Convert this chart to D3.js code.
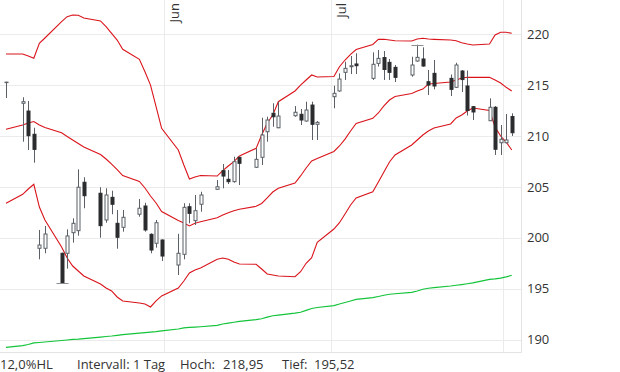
<!DOCTYPE html>
<html>
<head>
<meta charset="utf-8">
<script src="https://cdn.jsdelivr.net/npm/d3@7"></script>
<style>
  body { margin: 0; background: #fff; }
  svg { display: block; font-family: "Open Sans", sans-serif; }
</style>
</head>
<body>
<div id="chart"></div>
<script>
// trading days
const dates = [
  "2019-05-03",
  "2019-05-06","2019-05-07","2019-05-08","2019-05-09","2019-05-10",
  "2019-05-13","2019-05-14","2019-05-15","2019-05-16","2019-05-17",
  "2019-05-20","2019-05-21","2019-05-22","2019-05-23","2019-05-24",
  "2019-05-27","2019-05-28","2019-05-29","2019-05-30","2019-05-31",
  "2019-06-03","2019-06-04","2019-06-05","2019-06-06","2019-06-07",
  "2019-06-10","2019-06-11","2019-06-12","2019-06-13","2019-06-14",
  "2019-06-17","2019-06-18","2019-06-19","2019-06-20","2019-06-21",
  "2019-06-24","2019-06-25","2019-06-26","2019-06-27","2019-06-28",
  "2019-07-01","2019-07-02","2019-07-03","2019-07-04","2019-07-05",
  "2019-07-08","2019-07-09","2019-07-10","2019-07-11","2019-07-12",
  "2019-07-15","2019-07-16","2019-07-17","2019-07-18","2019-07-19",
  "2019-07-22","2019-07-23","2019-07-24","2019-07-25","2019-07-26",
  "2019-07-29","2019-07-30","2019-07-31","2019-08-01","2019-08-02"
];

const open = [
  215.28,
  213.20, 212.44, 210.16, 198.97, 198.97,
  198.48, 198.48, 200.50, 200.70, 205.45,
  204.37, 201.75, 203.97, 201.42, 201.03,
  202.31, 203.12, 200.34, 199.46, 199.78,
  197.33, 198.38, 203.05, 201.68, 203.29,
  204.76, 206.59, 205.74, 205.51, 207.90,
  206.92, 207.90, 210.41, 212.22, 210.80,
  211.98, 212.12, 211.46, 213.03, 211.14,
  213.85, 214.41, 216.24, 216.79, 217.06,
  215.65, 217.12, 217.69, 217.22, 216.73,
  215.98, 217.35, 217.55, 215.32, 216.14,
  215.65, 214.77, 216.37, 214.90, 212.87,
  211.49, 212.81, 209.33, 209.33, 211.90
];
const high = [
  215.30,
  213.79, 213.42, 210.80, 200.77, 201.16,
  198.54, 200.83, 201.91, 206.72, 205.94,
  204.96, 204.86, 204.62, 202.73, 202.73,
  203.81, 203.44, 200.44, 201.75, 199.85,
  200.39, 203.39, 203.39, 204.20, 204.52,
  205.67, 207.24, 206.65, 207.96, 207.96,
  208.78, 211.79, 211.88, 213.20, 213.36,
  212.93, 212.64, 213.36, 213.36, 211.46,
  214.93, 216.14, 217.28, 217.84, 218.11,
  218.20, 218.43, 218.33, 217.55, 216.96,
  217.77, 218.95, 218.69, 216.47, 217.45,
  216.03, 217.18, 216.47, 216.42, 212.93,
  213.69, 212.93, 211.07, 212.15, 212.22
];
const low = [
  213.72,
  209.43, 208.62, 207.37, 197.89, 198.48,
  195.52, 196.97, 199.52, 200.21, 202.90,
  200.01, 201.48, 202.31, 198.93, 200.60,
  202.07, 200.60, 198.48, 199.03, 197.72,
  196.35, 197.89, 201.42, 201.26, 202.56,
  204.70, 204.86, 205.28, 205.41, 205.18,
  206.85, 207.14, 209.43, 210.90, 210.75,
  211.88, 211.07, 211.40, 209.60, 209.60,
  212.71, 214.34, 215.49, 216.07, 216.07,
  215.49, 216.81, 215.49, 215.49, 215.29,
  215.81, 217.28, 216.79, 214.01, 214.57,
  213.92, 214.70, 214.31, 212.00, 211.56,
  211.46, 208.13, 208.13, 209.27, 209.99
];
const close = [
  215.28,
  213.36, 210.02, 208.68, 199.29, 200.37,
  195.55, 200.18, 201.42, 204.96, 204.13,
  201.19, 204.20, 203.29, 200.05, 202.01,
  202.90, 200.77, 198.80, 201.48, 198.21,
  198.48, 202.99, 202.40, 202.66, 204.20,
  205.01, 206.06, 205.51, 207.47, 207.31,
  207.70, 210.09, 211.56, 211.88, 211.95,
  212.32, 211.56, 212.54, 211.14, 211.33,
  214.18, 215.58, 216.63, 216.89, 216.89,
  217.03, 217.61, 216.52, 216.24, 215.75,
  216.96, 217.71, 216.86, 214.99, 214.90,
  214.57, 216.96, 215.53, 212.49, 212.35,
  212.81, 208.69, 209.67, 209.60, 210.31
];

// Bollinger bands
const upperBand = [
  218.04,
  218.04, 217.84, 217.62, 219.09, 219.61,
  221.21, 221.70, 221.86, 221.84, 221.57,
  221.28, 220.72, 220.07, 219.41, 218.50,
  217.52, 216.30, 214.99, 212.87, 210.75,
  208.62, 207.14, 205.77, 205.97, 206.11,
  206.06, 206.60, 207.05, 207.47, 208.03,
  208.78, 210.09, 211.24, 212.05, 213.36,
  214.41, 214.99, 215.49, 215.98, 215.78,
  215.83, 216.79, 217.45, 218.01, 218.48,
  218.97, 219.48, 219.48, 219.41, 219.34,
  219.31, 219.51, 219.58, 219.51, 219.48,
  219.41, 219.34, 219.15, 219.02, 218.92,
  219.02, 219.90, 220.17, 220.17, 220.07
];
const middleBand = [
  210.65,
  211.07, 211.27, 211.41, 211.07, 210.82,
  210.31, 209.94, 209.60, 209.25, 208.91,
  208.17, 207.73, 207.23, 206.70, 206.11,
  205.53, 204.89, 204.10, 203.42, 202.58,
  201.70, 201.45, 201.16, 201.42, 201.58,
  201.97, 202.24, 202.46, 202.66, 202.80,
  203.09, 203.37, 203.91, 204.49, 204.86,
  205.38, 206.07, 206.85, 207.54, 207.78,
  208.47, 209.01, 209.69, 210.48, 211.22,
  211.73, 212.25, 212.94, 213.52, 213.87,
  214.16, 214.41, 214.60, 215.09, 215.14,
  215.29, 215.49, 215.68, 215.75, 215.75,
  215.75, 215.49, 215.19, 214.77, 214.41
];
const lowerBand = [
  203.39,
  204.27, 204.79, 205.25, 203.02, 201.75,
  199.10, 198.02, 197.23, 196.74, 196.25,
  195.47, 195.07, 194.78, 194.19, 193.80,
  193.60, 193.50, 193.21, 193.80, 194.29,
  195.07, 195.76, 196.55, 196.84, 197.04,
  197.89, 198.02, 197.89, 197.63, 197.43,
  197.40, 196.94, 196.45, 196.35, 196.25,
  196.18, 196.67, 197.50, 198.05, 199.56,
  200.86, 201.48, 202.34, 203.22, 203.91,
  204.52, 205.48, 206.46, 207.44, 208.13,
  209.11, 209.60, 210.09, 210.48, 210.78,
  211.17, 211.76, 212.05, 212.44, 212.74,
  212.49, 210.87, 209.99, 209.40, 208.62
];
// long moving average (green)
const longAverage = [
  189.25,
  189.41, 189.53, 189.68, 189.72, 189.77,
  189.92, 189.97, 190.02, 190.05, 190.10,
  190.25, 190.31, 190.36, 190.43, 190.49,
  190.64, 190.69, 190.74, 190.79, 190.86,
  191.05, 191.15, 191.20, 191.23, 191.27,
  191.40, 191.54, 191.62, 191.71, 191.79,
  191.97, 192.05, 192.21, 192.35, 192.41,
  192.60, 192.69, 192.87, 193.06, 193.16,
  193.34, 193.50, 193.65, 193.80, 193.96,
  194.12, 194.24, 194.36, 194.46, 194.51,
  194.64, 194.78, 194.95, 195.05, 195.10,
  195.27, 195.34, 195.41, 195.49, 195.58,
  195.91, 195.96, 196.04, 196.17, 196.32
];

const yTicks = [190, 195, 200, 205, 210, 215, 220];
const monthNames = ["Jan", "Feb", "Mär", "Apr", "Mai", "Jun", "Jul", "Aug", "Sep", "Okt", "Nov", "Dez"];
const intervalLabel = "Intervall: 1 Tag";

const width = 620, height = 372;
const plotW = 521, plotH = 352;

const parse = d3.timeParse("%Y-%m-%d");
const days = dates.map(d => d3.timeHour.offset(parse(d), 12));
const idx = d3.range(dates.length);

const svg = d3.select("#chart").append("svg")
    .attr("width", width)
    .attr("height", height);

const x = d3.scaleTime()
    .domain([new Date(2019, 4, 2, 10), new Date(2019, 7, 4, 4)])
    .range([0, plotW]);

const y = d3.scaleLinear()
    .domain([188.79, 223.34])
    .range([plotH, 0]);

const px = i => Math.round(x(days[i])) + 0.5;

// grid
const grid = svg.append("g").attr("stroke", "#ebebeb").attr("stroke-width", 1);
grid.selectAll("line.h")
    .data(yTicks)
    .join("line")
    .attr("class", "h")
    .attr("x1", 0).attr("x2", plotW)
    .attr("y1", d => Math.round(y(d)) + 0.5)
    .attr("y2", d => Math.round(y(d)) + 0.5);

const months = x.ticks(d3.timeMonth.every(1));
grid.selectAll("line.v")
    .data(months)
    .join("line")
    .attr("class", "v")
    .attr("y1", 0).attr("y2", plotH)
    .attr("x1", d => Math.round(x(d)) + 0.5)
    .attr("x2", d => Math.round(x(d)) + 0.5);

// frame (right + bottom)
svg.append("path")
    .attr("d", `M0,${plotH + 0.5}H${plotW + 0.5}V0`)
    .attr("fill", "none")
    .attr("stroke", "#e3e3e3");

// month labels, rotated
svg.append("g").selectAll("text")
    .data(months.filter(d => x(d) < plotW - 30))
    .join("text")
    .attr("transform", d => `translate(${Math.round(x(d)) + 15},3) rotate(-90)`)
    .attr("text-anchor", "end")
    .attr("fill", "#333")
    .style("font-size", "13px")
    .text(d => monthNames[d.getMonth()]);

// y axis labels
svg.append("g").selectAll("text")
    .data(yTicks)
    .join("text")
    .attr("x", plotW + 6)
    .attr("y", d => y(d))
    .attr("dy", "0.36em")
    .attr("fill", "#333")
    .style("font-size", "13px")
    .text(d => d);

// lines
const line = arr => d3.line()
    .x(i => x(days[i]))
    .y(i => y(arr[i]))(idx);

svg.append("path")
    .attr("d", line(longAverage))
    .attr("fill", "none")
    .attr("stroke", "#13c43a")
    .attr("stroke-width", 1.2);

[upperBand, middleBand, lowerBand].forEach(band => {
    svg.append("path")
        .attr("d", line(band))
        .attr("fill", "none")
        .attr("stroke", "#d9141b")
        .attr("stroke-width", 1.1);
});

// candles
const candles = svg.append("g").selectAll("g")
    .data(idx)
    .join("g");

candles.append("line")
    .attr("x1", px).attr("x2", px)
    .attr("y1", i => y(high[i]))
    .attr("y2", i => y(low[i]))
    .attr("stroke", "#5a6066")
    .attr("stroke-width", 1);

candles.append("rect")
    .attr("x", i => px(i) - 1.5)
    .attr("width", 3)
    .attr("y", i => y(Math.max(open[i], close[i])))
    .attr("height", i => Math.max(0.5, Math.abs(y(open[i]) - y(close[i]))))
    .attr("fill", i => close[i] >= open[i] ? "#fff" : "#2a2c2e")
    .attr("stroke", i => close[i] >= open[i] ? "#5a6066" : "#2a2c2e")
    .attr("stroke-width", 1);

// markers for period high / low
const hiVal = d3.max(high), loVal = d3.min(low);
const hiIdx = high.indexOf(hiVal), loIdx = low.indexOf(loVal);
svg.append("line")
    .attr("x1", px(hiIdx) - 6).attr("x2", px(hiIdx) + 6)
    .attr("y1", Math.round(y(hiVal)) + 0.5).attr("y2", Math.round(y(hiVal)) + 0.5)
    .attr("stroke", "#8a8f94");
svg.append("line")
    .attr("x1", px(loIdx) - 6).attr("x2", px(loIdx) + 6)
    .attr("y1", Math.round(y(loVal)) + 0.5).attr("y2", Math.round(y(loVal)) + 0.5)
    .attr("stroke", "#8a8f94");

// footer
const fmt = v => d3.format(".2f")(v).replace(".", ",");
const range = ((hiVal - loVal) / loVal * 100).toFixed(1).replace(".", ",");
const footer = [
    { x: 0, t: range + "%HL" },
    { x: 77, t: intervalLabel },
    { x: 180, t: "Hoch:" },
    { x: 223, t: fmt(hiVal) },
    { x: 282, t: "Tief:" },
    { x: 314, t: fmt(loVal) }
];
svg.append("g").selectAll("text")
    .data(footer)
    .join("text")
    .attr("x", d => d.x)
    .attr("y", 369)
    .attr("fill", "#333")
    .style("font-size", "13px")
    .text(d => d.t);
</script>
</body>
</html>
